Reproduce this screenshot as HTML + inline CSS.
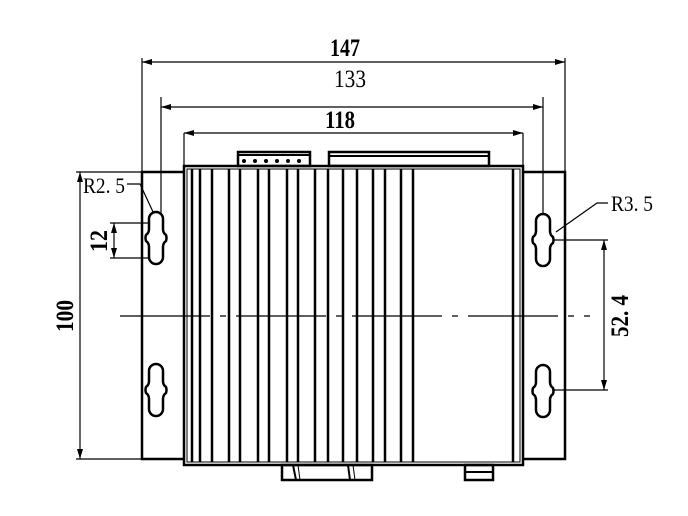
<!DOCTYPE html>
<html><head><style>body{margin:0;background:#fff}svg{display:block}text{font-family:"Liberation Serif",serif}</style></head><body>
<svg width="688" height="516" viewBox="0 0 688 516" xmlns="http://www.w3.org/2000/svg">
<defs>
<marker id="a" viewBox="0 0 10 6" refX="10" refY="3" markerWidth="10" markerHeight="6" orient="auto-start-reverse" markerUnits="userSpaceOnUse"><path d="M0,0L10,3L0,6z" fill="#000"/></marker>
<g id="slot"><path d="M-7,-19 A7,7 0 0 1 7,-19 L7,-9 Q7,-5 10,-3 Q11,0 10,3 Q7,5 7,9 L7,19 A7,7 0 0 1 -7,19 L-7,9 Q-7,5 -10,3 Q-11,0 -10,-3 Q-7,-5 -7,-9 Z" fill="#fff" stroke="#000" stroke-width="2.5"/></g>
</defs>
<g stroke="#000" fill="none">
<rect x="142" y="172" width="423" height="287" stroke-width="2.5"/>
<rect x="184" y="166" width="339" height="299" stroke-width="2.5" fill="#fff"/>
<rect x="187" y="169" width="333" height="293" stroke-width="1"/>
<g stroke-width="2.5">
<line x1="192" y1="169" x2="192" y2="462"/><line x1="200" y1="169" x2="200" y2="462"/><line x1="212" y1="169" x2="212" y2="462"/><line x1="229" y1="169" x2="229" y2="462"/><line x1="240" y1="169" x2="240" y2="462"/><line x1="258" y1="169" x2="258" y2="462"/><line x1="269" y1="169" x2="269" y2="462"/><line x1="287" y1="169" x2="287" y2="462"/><line x1="298" y1="169" x2="298" y2="462"/><line x1="315" y1="169" x2="315" y2="462"/><line x1="328" y1="169" x2="328" y2="462"/><line x1="343" y1="169" x2="343" y2="462"/><line x1="357" y1="169" x2="357" y2="462"/><line x1="373" y1="169" x2="373" y2="462"/><line x1="385" y1="169" x2="385" y2="462"/><line x1="401" y1="169" x2="401" y2="462"/><line x1="413" y1="169" x2="413" y2="462"/><line x1="513" y1="169" x2="513" y2="462"/>
</g>
<rect x="238" y="152" width="72" height="14" stroke-width="2.5"/>
<line x1="238" y1="155" x2="310" y2="155" stroke-width="2"/>
<rect x="329" y="152" width="160" height="14" stroke-width="2.5"/>
<line x1="329" y1="156" x2="489" y2="156" stroke-width="2"/>
<rect x="282" y="465" width="90" height="15" stroke-width="2.5"/>
<line x1="293" y1="465" x2="296" y2="480" stroke-width="2"/><line x1="298" y1="465" x2="300" y2="480"/>
<line x1="348" y1="465" x2="350" y2="480" stroke-width="2"/><line x1="353" y1="465" x2="355" y2="480"/>
<rect x="465" y="465" width="28" height="15" stroke-width="2.5"/>
<line x1="465" y1="472" x2="493" y2="472" stroke-width="2"/>
<g stroke-width="1.2">
<line x1="142" y1="58" x2="142" y2="172"/><line x1="565" y1="58" x2="565" y2="172"/>
<line x1="142" y1="62" x2="565" y2="62" marker-start="url(#a)" marker-end="url(#a)"/>
<line x1="161" y1="97" x2="161" y2="225"/><line x1="543" y1="97" x2="543" y2="225"/>
<line x1="161" y1="107" x2="543" y2="107" marker-start="url(#a)" marker-end="url(#a)"/>
<line x1="184" y1="133" x2="184" y2="166"/><line x1="523" y1="133" x2="523" y2="166"/>
<line x1="184" y1="133" x2="523" y2="133" marker-start="url(#a)" marker-end="url(#a)"/>
<line x1="76" y1="172" x2="142" y2="172"/><line x1="76" y1="459" x2="142" y2="459"/>
<line x1="80" y1="172" x2="80" y2="459" marker-start="url(#a)" marker-end="url(#a)"/>
<line x1="110" y1="223" x2="160" y2="223"/><line x1="110" y1="258" x2="160" y2="258"/>
<line x1="114" y1="223" x2="114" y2="258" marker-start="url(#a)" marker-end="url(#a)"/>
<line x1="543" y1="240" x2="608" y2="240"/><line x1="543" y1="390" x2="608" y2="390"/>
<line x1="604" y1="240" x2="604" y2="390" marker-start="url(#a)" marker-end="url(#a)"/>
<path d="M127,184 H140 L154,214"/><path d="M608,203 H597 L556,232"/>
<line x1="120" y1="316" x2="590" y2="316" stroke-dasharray="90,10,6,10"/>
</g>
</g>
<use href="#slot" x="156" y="238"/><use href="#slot" x="156" y="390"/>
<use href="#slot" x="543" y="240"/><use href="#slot" x="543" y="391"/>
<g fill="#000"><circle cx="244" cy="161" r="2"/><circle cx="255" cy="161" r="2"/><circle cx="266" cy="161" r="2"/><circle cx="277" cy="161" r="2"/><circle cx="288" cy="161" r="2"/><circle cx="299" cy="161" r="2"/></g>
<g font-size="25" fill="#000" text-anchor="middle">
<text x="345" y="56" font-weight="bold" textLength="30" lengthAdjust="spacingAndGlyphs">147</text>
<text x="350" y="87" textLength="32" lengthAdjust="spacingAndGlyphs">133</text>
<text x="340" y="128" font-weight="bold" textLength="30" lengthAdjust="spacingAndGlyphs">118</text>
<text x="104" y="193" font-size="22" textLength="42" lengthAdjust="spacingAndGlyphs">R2. 5</text>
<text x="632" y="211" font-size="22" textLength="42" lengthAdjust="spacingAndGlyphs">R3. 5</text>
<text transform="translate(73,316) rotate(-90)" font-weight="bold" textLength="32" lengthAdjust="spacingAndGlyphs">100</text>
<text transform="translate(107,241) rotate(-90)" font-weight="bold" textLength="22" lengthAdjust="spacingAndGlyphs">12</text>
<text transform="translate(628,316) rotate(-90)" font-weight="bold" textLength="42" lengthAdjust="spacingAndGlyphs">52. 4</text>
</g>
</svg>
</body></html>
